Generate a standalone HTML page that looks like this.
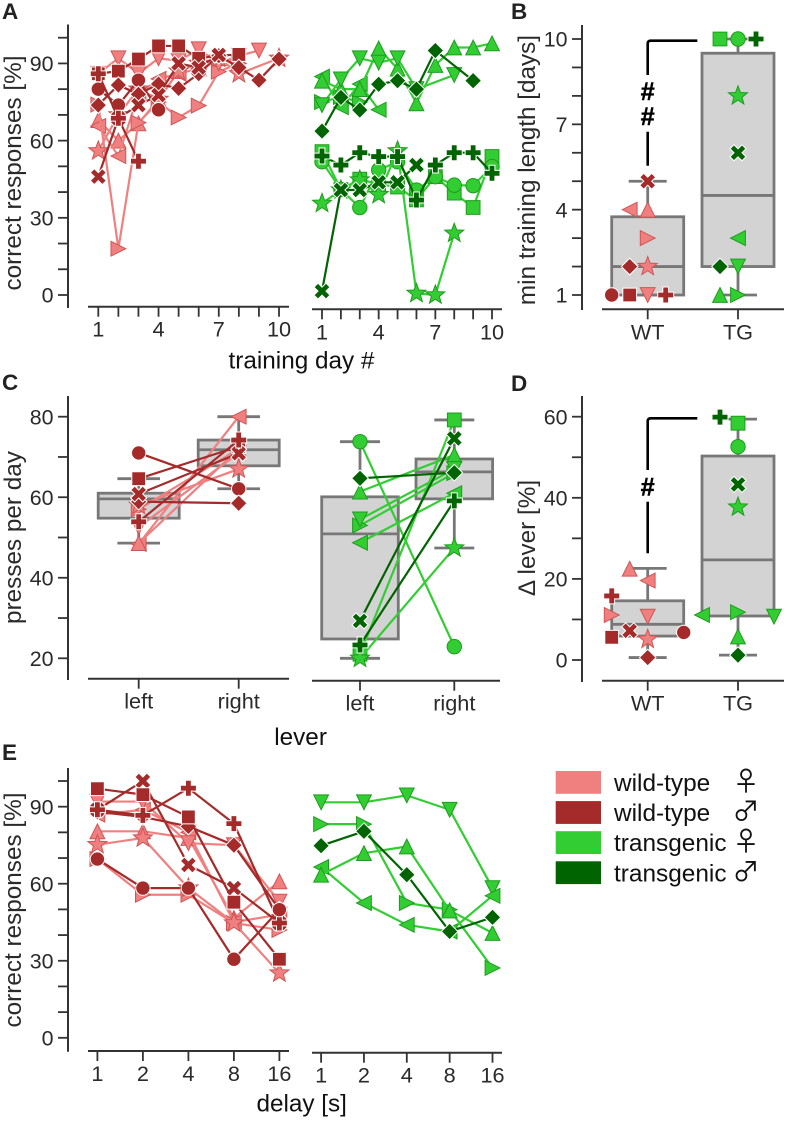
<!DOCTYPE html>
<html lang="en">
<head>
<meta charset="utf-8">
<title>Training performance of wild-type and transgenic animals</title>
<style>
html,body{margin:0;padding:0;background:#fff;}
svg{display:block;}
text{font-family:"Liberation Sans",Arial,sans-serif;fill:#2a2a2a;}
</style>
</head>
<body>
<svg id="figure" xmlns="http://www.w3.org/2000/svg" width="787" height="1122" viewBox="0 0 787 1122"></svg>
<script>
/* ---------- Panel A data: correct responses [%] per training day ---------- */
const trainingDays = [1,2,3,4,5,6,7,8,9,10];
const aYTicks = [0,10,20,30,40,50,60,70,80,90,100];
const aYTickLabels = [0,30,60,90];
const aXTickLabels = [1,4,7,10];
const aWtTriUp = [68,60,66.7,76,87,90,92,90];
const aWtTriLeft = [65.7,54,78,84,86,88];
const aWtTriRight = [74,18,67,75,69,73.6,86.8,90];
const aWtTriDown = [86,92,86,92,91,95.5,90,93,95];
const aWtStar = [56,70,80,76,87,90,92,86,null,92];
const aWtSquare = [86,87,91.7,96.8,96.8,92,93,93.5];
const aWtCircle = [80,73.8,83.5,72];
const aWtDiamond = [73.8,81.6,78,82,80.3,86,93,88.4,83.5,91.7];
const aWtX = [46,68.7,73.8,77.7,90,88.4,93.3];
const aWtPlus = [86,68.7,52];
const aTgSquare = [55.7,41,45,43,42,37,46,39.6,34,53.8];
const aTgCircle = [51.8,41,34,48.6,51.8,40.8,46,42.7,42.5,49.9];
const aTgTriUp = [83.3,80,80,95.8,88,74.5,89.4,96.2,96.2,97.8];
const aTgTriLeft = [84.9,73,82,72];
const aTgTriRight = [75,77,75];
const aTgTriDown = [73.8,83.8,92,90.3,92,80,null,85.5];
const aTgStar = [35.6,40.8,44.7,39,56,0.6,0,24];
const aTgDiamond = [63.7,76.8,71.9,81.9,83.3,80,95,null,83.3];
const aTgX = [1.5,40.8,40.8,43.8,43.8,50.5];
const aTgPlus = [54,50.5,55.3,53.8,53.8,36.9,50.5,55.3,55.3,47.3];

/* ---------- Panel B data: min training length [days] ---------- */
const bYTicks = [1,2,3,4,5,6,7,8,9,10];
const bYTickLabels = [1,4,7,10];
const genotypeLabels = ['WT','TG'];
const bWtBox = [1,2,3.75,1,5]; /* q1, median, q3, low, high */
const bTgBox = [2,4.5,9.5,1,10];
const bWtShapes = ['circle','square','triDown','plus','diamond','star','triRight','triLeft','triUp','x'];
const bWtValues = [1,1,1,1,2,2,3,4,4,5];
const bWtSlots = [-2,-1,0,1,-1,0,0,-1,0,0];
const bTgShapes = ['square','circle','plus','star','x','triLeft','diamond','triDown','triUp','triRight'];
const bTgValues = [10,10,10,8,6,3,2,2,1,1];
const bTgSlots = [-1,0,1,0,0,0,-1,0,-1,0];

/* ---------- Panel C data: presses per day ---------- */
const cYTicks = [20,30,40,50,60,70,80];
const cYTickLabels = [20,40,60,80];
const leverLabels = ['left','right'];
const cWtBox = [54.8,59.6,61,48.6,64.6];
const cTgBox = [24.8,50.9,60.1,20,73.8];
const cWtRightBox = [67.8,71.8,74.2,62.1,80];
const cTgRightBox = [59.6,66.3,69.5,47.4,79.2];
const cWtTriUp = [48.6,72];
const cWtTriLeft = [48.4,80];
const cWtTriDown = [52.6,71];
const cWtTriRight = [57,72];
const cWtStar = [58,67];
const cWtSquare = [64.6,72.6];
const cWtCircle = [71,62.1];
const cWtDiamond = [58.9,58.5];
const cWtX = [60.8,70.9];
const cWtPlus = [53.9,74.2];
const cTgSquare = [21,79.2];
const cTgCircle = [73.8,22.9];
const cTgTriUp = [61.4,70.5];
const cTgTriDown = [54.5,67];
const cTgTriRight = [53,66];
const cTgTriLeft = [48.7,61];
const cTgStar = [20,47.4];
const cTgDiamond = [64.7,66.1];
const cTgX = [29.3,74.6];
const cTgPlus = [23.3,59.1];

/* ---------- Panel D data: delta lever [%] ---------- */
const dYTicks = [0,10,20,30,40,50,60];
const dYTickLabels = [0,20,40,60];
const dWtBox = [5.9,8.8,14.6,0.6,22.6];
const dTgBox = [10.85,24.7,50.3,1.2,59.4];
const dWtShapes = ['triUp','triLeft','plus','triRight','triDown','x','square','circle','star','diamond'];
const dWtValues = [22.5,19.6,15.8,11.1,10.7,7.2,5.6,6.8,5.1,0.6];
const dWtSlots = [-1,0,-2,-2,0,-1,-2,2,0,0];
const dTgShapes = ['plus','square','circle','x','star','triLeft','triRight','triDown','triUp','diamond'];
const dTgValues = [59.9,58.4,52.6,43.3,37.7,11.1,11.8,10.7,5.8,1.2];
const dTgSlots = [-1,0,0,0,0,-2,0,2,0,0];

/* ---------- Panel E data: correct responses [%] per delay ---------- */
const delayLabels = ['1','2','4','8','16'];
const eYTicks = [0,10,20,30,40,50,60,70,80,90,100];
const eYTickLabels = [0,30,60,90];
const eWtTriUp = [80.4,80.4,77.8,46.6,60.9];
const eWtTriDown = [92,92,75.8,75,53];
const eWtTriLeft = [86.9,88.8,80,45,48];
const eWtTriRight = [69.6,55.7,55.7,44.7,42];
const eWtStar = [75.2,77.8,58.3,44.7,25.2];
const eWtSquare = [97,94.7,86,52.8,30.6];
const eWtCircle = [69.6,58.3,58.3,30.6,49.9];
const eWtDiamond = [88,86,82.3,75,49.9];
const eWtX = [88.8,100,67.3,58.3,44.7];
const eWtPlus = [88.8,86.6,97.2,83.4,44.7];
const eTgTriDown = [91.7,91.7,94.4,88.8,58.3];
const eTgTriRight = [83.2,83.2,52.5,49.9,27.2];
const eTgTriUp = [63.5,71.9,74.5,49.6,40.8];
const eTgTriLeft = [66.5,52.5,44,41.4,55.3];
const eTgDiamond = [74.8,80.4,63.5,41.4,46.9];

/* ---------- Legend data ---------- */
const legendLabels = ['wild-type','wild-type','transgenic','transgenic'];
const legendGroups = ['wtF','wtM','tgF','tgM'];
const legendSymbols = ['\u2640','\u2642','\u2640','\u2642'];

/* ---------- Styles ---------- */
const NS = 'http://www.w3.org/2000/svg';
const INK = '#333';
const BOX = '#777';
const TITLE_SIZE = 24.3;
const groupStyles = {
  wtF:{line:'#f08080',fill:'#f08080',edge:'#cf5555'},
  wtM:{line:'#a52a2a',fill:'#a52a2a',edge:'#ffffff'},
  tgF:{line:'#32cd32',fill:'#32cd32',edge:'#1e9c1e'},
  tgM:{line:'#006400',fill:'#006400',edge:'#ffffff'}
};
const shapeGroupsWt = {triUp:'wtF',triLeft:'wtF',triRight:'wtF',triDown:'wtF',star:'wtF',square:'wtM',circle:'wtM',diamond:'wtM',x:'wtM',plus:'wtM'};
const shapeGroupsTg = {square:'tgF',circle:'tgF',triUp:'tgF',triLeft:'tgF',triRight:'tgF',triDown:'tgF',star:'tgF',diamond:'tgM',x:'tgM',plus:'tgM'};

const svg = document.getElementById('figure');

function make(tag, attrs, parent, text){
  const n = document.createElementNS(NS, tag);
  for(const k in attrs){ n.setAttribute(k, attrs[k]); }
  if(text !== undefined){ n.textContent = text; }
  parent.appendChild(n);
  return n;
}
function scale(v0,p0,v1,p1){ return v => p0 + (v - v0) * (p1 - p0) / (v1 - v0); }
function band(p0,step){ return i => p0 + i * step; }

function group(parent, name){
  const g = make('g', {}, parent);
  
  
  return g;
}
function label(parent, name, x, y, str, size, anchor, extra){
  const attrs = Object.assign({x:x, y:y, 'font-size':size, 'text-anchor':anchor || 'middle'}, extra || {});
  const t = make('text', attrs, parent, str);
  
  
  return t;
}
function yTitle(parent, name, x, cy, str){
  return label(parent, name, 0, 0, str, TITLE_SIZE, 'middle', {transform:'translate(' + x + ',' + cy + ') rotate(-90)'});
}
function xTitle(parent, name, cx, y, str){
  return label(parent, name, cx, y, str, TITLE_SIZE, 'middle', {style:'fill:#111'});
}
function panelLetter(parent, str, x, y){
  return label(parent, 'panel-label-' + str.toLowerCase(), x, y, str, 22.5, 'start', {'font-weight':'bold', style:'fill:#222'});
}
function rule(parent, name, x1, y1, x2, y2, color, width){
  const l = make('line', {x1:x1, y1:y1, x2:x2, y2:y2, stroke:color, 'stroke-width':width}, parent);
  
  
  return l;
}
function yAxis(parent, x, top, bottom, y, ticks, tickLabels){
  const g = group(parent, 'y-axis');
  rule(g, 'y-axis-line', x, top, x, bottom, INK, 2);
  ticks.forEach(v => { rule(g, 'y-tick', x - 10, y(v), x, y(v), INK, 1.8); });
  tickLabels.forEach(v => { label(g, 'y-tick-label', x - 14.5, y(v) + 7.7, String(v), 21.4, 'end'); });
}
function xAxis(parent, y, left, right, x, ticks, tickLabels){
  const g = group(parent, 'x-axis');
  rule(g, 'x-axis-line', left, y, right, y, INK, 2);
  ticks.forEach(v => { rule(g, 'x-tick', x(v), y, x(v), y + 10, INK, 1.8); });
  tickLabels.forEach(v => { label(g, 'x-tick-label', x(v.at), y + 30, String(v.text), 21.7); });
}
function polyPoints(cx, cy, pts){ return pts.map(p => (cx + p[0]).toFixed(2) + ',' + (cy + p[1]).toFixed(2)).join(' '); }
function starPoints(r){
  const out = [];
  for(let i = 0; i < 10; i++){
    const rad = i % 2 ? r * 0.42 : r;
    const a = -Math.PI / 2 + i * Math.PI / 5;
    out.push([rad * Math.cos(a), rad * Math.sin(a)]);
  }
  return out;
}
const shapeOutlines = {
  triUp: [[0,-7.4],[-7.4,7.4],[7.4,7.4]],
  triDown: [[0,7.4],[-7.4,-7.4],[7.4,-7.4]],
  triLeft: [[-7.4,0],[7.4,-7.4],[7.4,7.4]],
  triRight: [[7.4,0],[-7.4,-7.4],[-7.4,7.4]],
  diamond: [[0,-8.3],[8.3,0],[0,8.3],[-8.3,0]],
  square: [[-6.9,-6.9],[6.9,-6.9],[6.9,6.9],[-6.9,6.9]],
  star: starPoints(10),
  plus: [[-2.9,-8],[2.9,-8],[2.9,-2.9],[8,-2.9],[8,2.9],[2.9,2.9],[2.9,8],[-2.9,8],[-2.9,2.9],[-8,2.9],[-8,-2.9],[-2.9,-2.9]],
  x: [[-4,-8],[0,-4],[4,-8],[8,-4],[4,0],[8,4],[4,8],[0,4],[-4,8],[-8,4],[-4,0],[-8,-4]]
};
function marker(parent, shape, groupKey, cx, cy){
  const st = groupStyles[groupKey];
  let m;
  if(shape === 'circle'){
    m = make('circle', {cx:cx, cy:cy, r:7.2, fill:st.fill, stroke:st.edge, 'stroke-width':1}, parent);
  } else {
    m = make('polygon', {points:polyPoints(cx, cy, shapeOutlines[shape]), fill:st.fill, stroke:st.edge, 'stroke-width':1, 'stroke-linejoin':'miter'}, parent);
  }
  
  
  return m;
}
function series(parent, name, shape, groupKey, values, x, y){
  const g = group(parent, name);
  const pts = [];
  values.forEach((v, i) => { if(v !== null){ pts.push([x(i), y(v)]); } });
  const path = make('polyline', {points:pts.map(p => p[0].toFixed(2) + ',' + p[1].toFixed(2)).join(' '), fill:'none', stroke:groupStyles[groupKey].line, 'stroke-width':2.2, 'stroke-linejoin':'round'}, g);
  
  
  pts.forEach(p => { marker(g, shape, groupKey, p[0], p[1]); });
}
function boxplot(parent, name, box, cx, halfWidth, capHalf, y){
  const g = group(parent, name);
  const q1 = box[0], med = box[1], q3 = box[2], low = box[3], high = box[4];
  rule(g, 'whisker-high', cx, y(q3), cx, y(high), BOX, 2.8);
  rule(g, 'whisker-low', cx, y(q1), cx, y(low), BOX, 2.8);
  rule(g, 'cap-high', cx - capHalf, y(high), cx + capHalf, y(high), BOX, 2.8);
  rule(g, 'cap-low', cx - capHalf, y(low), cx + capHalf, y(low), BOX, 2.8);
  const r = make('rect', {x:cx - halfWidth, y:y(q3), width:halfWidth * 2, height:y(q1) - y(q3), fill:'#d3d3d3', stroke:BOX, 'stroke-width':2.8}, g);
  
  
  rule(g, 'median', cx - halfWidth, y(med), cx + halfWidth, y(med), BOX, 2.8);
}
function swarm(parent, name, shapes, values, slots, groupsMap, cx, y){
  const g = group(parent, name);
  shapes.forEach((s, i) => { marker(g, s, groupsMap[s], cx + slots[i] * 18, y(values[i])); });
}
function bracket(parent, name, x, topY, rightX, gapTop, gapBottom, bottomY, hashes){
  const g = group(parent, name);
  const d = 'M' + x + ' ' + gapTop + 'L' + x + ' ' + (topY + 3) + 'Q' + x + ' ' + topY + ' ' + (x + 3) + ' ' + topY + 'L' + rightX + ' ' + topY +
            'M' + x + ' ' + gapBottom + 'L' + x + ' ' + bottomY;
  const p = make('path', {d:d, fill:'none', stroke:'#000', 'stroke-width':2.6}, g);
  
  
  hashes.forEach(hy => {
    label(g, 'significance-mark', x, hy, '#', 25, 'middle', {'font-weight':'bold', stroke:'#000', 'stroke-width':0.5, style:'fill:#000'});
  });
}

/* ---------- Panel A ---------- */
const panelA = group(svg, 'panel-a');
panelLetter(panelA, 'A', 2, 19);
const aY = scale(0, 295, 100, 37.7);
const aXWt = band(98.3, 20.08);
const aXTg = band(322, 18.89);
yAxis(panelA, 68, 24.5, 308, aY, aYTicks, aYTickLabels);
yTitle(panelA, 'y-axis-title', 21, 173, 'correct responses [%]');
xAxis(panelA, 306.7, 88, 289, aXWt, trainingDays.map((d, i) => i), aXTickLabels.map(d => ({at:d - 1, text:d})));
xAxis(panelA, 309.3, 312, 502, aXTg, trainingDays.map((d, i) => i), aXTickLabels.map(d => ({at:d - 1, text:d})));
xTitle(panelA, 'x-axis-title', 301.5, 368.3, 'training day #');
const aWtLayer = group(panelA, 'wild-type-series');
series(aWtLayer, 'wt-f-triangle-up', 'triUp', 'wtF', aWtTriUp, aXWt, aY);
series(aWtLayer, 'wt-f-triangle-left', 'triLeft', 'wtF', aWtTriLeft, aXWt, aY);
series(aWtLayer, 'wt-f-triangle-right', 'triRight', 'wtF', aWtTriRight, aXWt, aY);
series(aWtLayer, 'wt-f-triangle-down', 'triDown', 'wtF', aWtTriDown, aXWt, aY);
series(aWtLayer, 'wt-f-star', 'star', 'wtF', aWtStar, aXWt, aY);
series(aWtLayer, 'wt-m-square', 'square', 'wtM', aWtSquare, aXWt, aY);
series(aWtLayer, 'wt-m-circle', 'circle', 'wtM', aWtCircle, aXWt, aY);
series(aWtLayer, 'wt-m-diamond', 'diamond', 'wtM', aWtDiamond, aXWt, aY);
series(aWtLayer, 'wt-m-x', 'x', 'wtM', aWtX, aXWt, aY);
series(aWtLayer, 'wt-m-plus', 'plus', 'wtM', aWtPlus, aXWt, aY);
const aTgLayer = group(panelA, 'transgenic-series');
series(aTgLayer, 'tg-f-square', 'square', 'tgF', aTgSquare, aXTg, aY);
series(aTgLayer, 'tg-f-circle', 'circle', 'tgF', aTgCircle, aXTg, aY);
series(aTgLayer, 'tg-f-triangle-right', 'triRight', 'tgF', aTgTriRight, aXTg, aY);
series(aTgLayer, 'tg-f-triangle-left', 'triLeft', 'tgF', aTgTriLeft, aXTg, aY);
series(aTgLayer, 'tg-f-triangle-up', 'triUp', 'tgF', aTgTriUp, aXTg, aY);
series(aTgLayer, 'tg-f-triangle-down', 'triDown', 'tgF', aTgTriDown, aXTg, aY);
series(aTgLayer, 'tg-f-star', 'star', 'tgF', aTgStar, aXTg, aY);
series(aTgLayer, 'tg-m-diamond', 'diamond', 'tgM', aTgDiamond, aXTg, aY);
series(aTgLayer, 'tg-m-x', 'x', 'tgM', aTgX, aXTg, aY);
series(aTgLayer, 'tg-m-plus', 'plus', 'tgM', aTgPlus, aXTg, aY);

/* ---------- Panel B ---------- */
const panelB = group(svg, 'panel-b');
panelLetter(panelB, 'B', 511, 19);
const bY = scale(1, 295, 10, 39);
const catX = band(647.7, 90.3);
yAxis(panelB, 582, 25, 310, bY, bYTicks, bYTickLabels);
yTitle(panelB, 'y-axis-title', 535, 170, 'min training length [days]');
xAxis(panelB, 309.3, 602, 784, catX, [0,1], genotypeLabels.map((t, i) => ({at:i, text:t})));
boxplot(panelB, 'wt-box', bWtBox, catX(0), 36, 19, bY);
boxplot(panelB, 'tg-box', bTgBox, catX(1), 36, 19, bY);
swarm(panelB, 'wt-swarm', bWtShapes, bWtValues, bWtSlots, shapeGroupsWt, catX(0), bY);
swarm(panelB, 'tg-swarm', bTgShapes, bTgValues, bTgSlots, shapeGroupsTg, catX(1), bY);
bracket(panelB, 'significance-wt-tg', 647.7, 40.7, 697.3, 75, 131.7, 165.7, [100, 125]);

/* ---------- Panel C ---------- */
const panelC = group(svg, 'panel-c');
panelLetter(panelC, 'C', 2, 390);
const cY = scale(20, 658.3, 80, 416.7);
const cXWt = band(138.7, 100);
const cXTg = band(360, 94.3);
yAxis(panelC, 68, 396, 680, cY, cYTicks, cYTickLabels);
yTitle(panelC, 'y-axis-title', 21, 537.5, 'presses per day');
xAxis(panelC, 678.7, 88, 289, cXWt, [0,1], leverLabels.map((t, i) => ({at:i, text:t})));
xAxis(panelC, 680.7, 312, 500, cXTg, [0,1], leverLabels.map((t, i) => ({at:i, text:t})));
xTitle(panelC, 'x-axis-title', 300.6, 745, 'lever');
boxplot(panelC, 'wt-left-box', cWtBox, cXWt(0), 40.5, 21.3, cY);
boxplot(panelC, 'wt-right-box', cWtRightBox, cXWt(1), 40.5, 21.3, cY);
boxplot(panelC, 'tg-left-box', cTgBox, cXTg(0), 38.3, 20, cY);
boxplot(panelC, 'tg-right-box', cTgRightBox, cXTg(1), 38.3, 20, cY);
const cWtLayer = group(panelC, 'wild-type-series');
series(cWtLayer, 'wt-f-triangle-left', 'triLeft', 'wtF', cWtTriLeft, cXWt, cY);
series(cWtLayer, 'wt-f-triangle-up', 'triUp', 'wtF', cWtTriUp, cXWt, cY);
series(cWtLayer, 'wt-f-triangle-down', 'triDown', 'wtF', cWtTriDown, cXWt, cY);
series(cWtLayer, 'wt-f-triangle-right', 'triRight', 'wtF', cWtTriRight, cXWt, cY);
series(cWtLayer, 'wt-f-star', 'star', 'wtF', cWtStar, cXWt, cY);
series(cWtLayer, 'wt-m-square', 'square', 'wtM', cWtSquare, cXWt, cY);
series(cWtLayer, 'wt-m-circle', 'circle', 'wtM', cWtCircle, cXWt, cY);
series(cWtLayer, 'wt-m-diamond', 'diamond', 'wtM', cWtDiamond, cXWt, cY);
series(cWtLayer, 'wt-m-x', 'x', 'wtM', cWtX, cXWt, cY);
series(cWtLayer, 'wt-m-plus', 'plus', 'wtM', cWtPlus, cXWt, cY);
const cTgLayer = group(panelC, 'transgenic-series');
series(cTgLayer, 'tg-f-square', 'square', 'tgF', cTgSquare, cXTg, cY);
series(cTgLayer, 'tg-f-circle', 'circle', 'tgF', cTgCircle, cXTg, cY);
series(cTgLayer, 'tg-f-triangle-up', 'triUp', 'tgF', cTgTriUp, cXTg, cY);
series(cTgLayer, 'tg-f-triangle-right', 'triRight', 'tgF', cTgTriRight, cXTg, cY);
series(cTgLayer, 'tg-f-triangle-down', 'triDown', 'tgF', cTgTriDown, cXTg, cY);
series(cTgLayer, 'tg-f-triangle-left', 'triLeft', 'tgF', cTgTriLeft, cXTg, cY);
series(cTgLayer, 'tg-f-star', 'star', 'tgF', cTgStar, cXTg, cY);
series(cTgLayer, 'tg-m-diamond', 'diamond', 'tgM', cTgDiamond, cXTg, cY);
series(cTgLayer, 'tg-m-x', 'x', 'tgM', cTgX, cXTg, cY);
series(cTgLayer, 'tg-m-plus', 'plus', 'tgM', cTgPlus, cXTg, cY);

/* ---------- Panel D ---------- */
const panelD = group(svg, 'panel-d');
panelLetter(panelD, 'D', 511, 391);
const dY = scale(0, 660, 60, 416.7);
yAxis(panelD, 582, 396, 682, dY, dYTicks, dYTickLabels);
yTitle(panelD, 'y-axis-title', 535, 538, '\u0394 lever [%]');
xAxis(panelD, 680.7, 602, 784, catX, [0,1], genotypeLabels.map((t, i) => ({at:i, text:t})));
boxplot(panelD, 'wt-box', dWtBox, catX(0), 36, 19, dY);
boxplot(panelD, 'tg-box', dTgBox, catX(1), 36, 19, dY);
swarm(panelD, 'wt-swarm', dWtShapes, dWtValues, dWtSlots, shapeGroupsWt, catX(0), dY);
swarm(panelD, 'tg-swarm', dTgShapes, dTgValues, dTgSlots, shapeGroupsTg, catX(1), dY);
bracket(panelD, 'significance-wt-tg', 647.7, 418.3, 697.3, 470, 501.7, 553.3, [495.7]);

/* ---------- Panel E ---------- */
const panelE = group(svg, 'panel-e');
panelLetter(panelE, 'E', 2, 760);
const eY = scale(0, 1037.8, 100, 781);
const eXWt = band(97.4, 45.5);
const eXTg = band(321.1, 42.85);
const delayIndex = delayLabels.map((t, i) => i);
yAxis(panelE, 68, 768, 1051.7, eY, eYTicks, eYTickLabels);
yTitle(panelE, 'y-axis-title', 21, 910, 'correct responses [%]');
xAxis(panelE, 1051, 88, 289, eXWt, delayIndex, delayLabels.map((t, i) => ({at:i, text:t})));
xAxis(panelE, 1052.7, 312, 502, eXTg, delayIndex, delayLabels.map((t, i) => ({at:i, text:t})));
xTitle(panelE, 'x-axis-title', 301.7, 1111.7, 'delay [s]');
const eWtLayer = group(panelE, 'wild-type-series');
series(eWtLayer, 'wt-f-triangle-up', 'triUp', 'wtF', eWtTriUp, eXWt, eY);
series(eWtLayer, 'wt-f-triangle-left', 'triLeft', 'wtF', eWtTriLeft, eXWt, eY);
series(eWtLayer, 'wt-f-triangle-right', 'triRight', 'wtF', eWtTriRight, eXWt, eY);
series(eWtLayer, 'wt-f-triangle-down', 'triDown', 'wtF', eWtTriDown, eXWt, eY);
series(eWtLayer, 'wt-f-star', 'star', 'wtF', eWtStar, eXWt, eY);
series(eWtLayer, 'wt-m-diamond', 'diamond', 'wtM', eWtDiamond, eXWt, eY);
series(eWtLayer, 'wt-m-x', 'x', 'wtM', eWtX, eXWt, eY);
series(eWtLayer, 'wt-m-plus', 'plus', 'wtM', eWtPlus, eXWt, eY);
series(eWtLayer, 'wt-m-square', 'square', 'wtM', eWtSquare, eXWt, eY);
series(eWtLayer, 'wt-m-circle', 'circle', 'wtM', eWtCircle, eXWt, eY);
const eTgLayer = group(panelE, 'transgenic-series');
series(eTgLayer, 'tg-f-triangle-down', 'triDown', 'tgF', eTgTriDown, eXTg, eY);
series(eTgLayer, 'tg-f-triangle-right', 'triRight', 'tgF', eTgTriRight, eXTg, eY);
series(eTgLayer, 'tg-f-triangle-left', 'triLeft', 'tgF', eTgTriLeft, eXTg, eY);
series(eTgLayer, 'tg-f-triangle-up', 'triUp', 'tgF', eTgTriUp, eXTg, eY);
series(eTgLayer, 'tg-m-diamond', 'diamond', 'tgM', eTgDiamond, eXTg, eY);

/* ---------- Legend ---------- */
const legend = group(svg, 'legend');
legendLabels.forEach((t, i) => {
  const rowY = 771 + i * 30.1;
  const swatch = make('rect', {x:555.7, y:rowY, width:45.3, height:22.8, fill:groupStyles[legendGroups[i]].fill}, legend);
  
  
  label(legend, 'legend-label', 614, rowY + 20, t, 24.4, 'start', {style:'fill:#111'});
  label(legend, 'legend-sex-symbol', 746, rowY + 20, legendSymbols[i], 27, 'middle', {style:'font-family:"Noto Sans CJK JP","DejaVu Sans",sans-serif;fill:#111'});
});
</script>
</body>
</html>
